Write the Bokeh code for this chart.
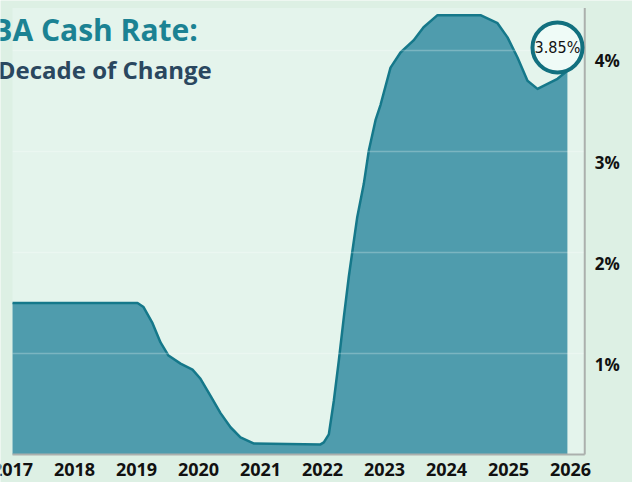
from bokeh.plotting import figure
from bokeh.models import Range1d, Label
from bokeh.core.properties import value
from bokeh.embed import file_html
from bokeh.resources import INLINE

# ---- data ----
dates = [2017.0, 2019.016, 2019.113, 2019.258, 2019.387, 2019.516, 2019.71, 2019.903,
         2020.032, 2020.194, 2020.355, 2020.516, 2020.677, 2020.887, 2021.968, 2022.021,
         2022.102, 2022.182, 2022.263, 2022.344, 2022.424, 2022.479, 2022.56, 2022.666,
         2022.747, 2022.855, 2022.935, 2023.097, 2023.258, 2023.468, 2023.63, 2023.855,
         2024.548, 2024.823, 2024.984, 2025.145, 2025.306, 2025.468, 2025.79, 2025.95]
rates = [1.5, 1.5, 1.46, 1.30, 1.11, 0.98, 0.90, 0.84,
         0.75, 0.58, 0.41, 0.27, 0.17, 0.11, 0.1, 0.12,
         0.20, 0.53, 0.93, 1.36, 1.76, 2.0, 2.35, 2.68,
         3.01, 3.31, 3.46, 3.83, 3.98, 4.10, 4.23, 4.35,
         4.35, 4.27, 4.13, 3.93, 3.70, 3.62, 3.72, 3.80]
years = [2017, 2018, 2019, 2020, 2021, 2022, 2023, 2024, 2025, 2026]
year_labels = [str(y) for y in years]
pct_ticks = [1, 2, 3, 4]
pct_labels = ["1%", "2%", "3%", "4%"]
current_rate_label = "3.85%"
title_text = "RBA Cash Rate:"
subtitle_text = "A Decade of Change"

FONT = value("Open Sans")
X0, X1 = 2016.806, 2027.0
Y0, Y1 = -0.277, 4.495
X_END = 2026.23   # right edge of the plot area (axis line)
Y_TOP = 4.42

p = figure(width=632, height=482, output_backend="svg", toolbar_location=None,
           x_range=Range1d(X0, X1), y_range=Range1d(Y0, Y1), min_border=0)
p.axis.visible = False
p.grid.visible = False
p.outline_line_color = None
p.background_fill_color = "#ddf0e4"
p.border_fill_color = "#ddf0e4"

# plot-area panel
p.quad(left=[years[0]], right=[X_END], bottom=[0], top=[Y_TOP],
       fill_color="#e4f4ec", line_color=None)

# area + line
p.varea(x=dates, y1=[0] * len(dates), y2=rates, fill_color="#4f9cad")
p.line(x=dates, y=rates, line_color="#15788a", line_width=2.5, line_join="round")

# faint grid lines
p.segment(x0=[years[0]] * 4, x1=[X_END] * 4, y0=pct_ticks, y1=pct_ticks,
          line_color="white", line_alpha=0.25, line_width=1.5)

# axis lines (bottom + right)
p.segment(x0=[years[0], X_END], x1=[X_END, X_END], y0=[0, 0], y1=[0, Y_TOP],
          line_color="#abb0ad", line_width=2)

# tick labels
p.text(x=years, y=[0] * len(years), text=year_labels, text_font=FONT,
       text_font_style="bold", text_font_size="18px", text_color="#111111",
       text_align="center", text_baseline="alphabetic", y_offset=15)
p.text(x=[X_END] * 4, y=pct_ticks, text=pct_labels, text_font=FONT,
       text_font_style="bold", text_font_size="17px", text_color="#111111",
       text_align="left", text_baseline="alphabetic", x_offset=10, y_offset=10.5)

# current value badge
bx = dates[-1] - 0.16
by = rates[-1] + 0.23
p.scatter(x=[bx], y=[by], size=50, marker="circle", fill_color="#effbf7",
          line_color="#12707f", line_width=4)
p.text(x=[bx], y=[by], text=[current_rate_label],
       text_font=value("DejaVu Sans Condensed"), text_font_size="16px",
       text_color="#111111", text_align="center", text_baseline="middle")

# titles
p.add_layout(Label(x=X0, y=Y1, x_offset=-28, y_offset=-29,
                   text=title_text, text_font="Open Sans", text_font_style="bold",
                   text_font_size="30px", text_color="#1b8293",
                   text_baseline="alphabetic"))
p.add_layout(Label(x=X0, y=Y1, x_offset=-25.5, y_offset=-69,
                   text=subtitle_text, text_font="Open Sans", text_font_style="bold",
                   text_font_size="24px", text_color="#2a475f",
                   text_baseline="alphabetic"))

open("out.html", "w").write(file_html(p, INLINE))
